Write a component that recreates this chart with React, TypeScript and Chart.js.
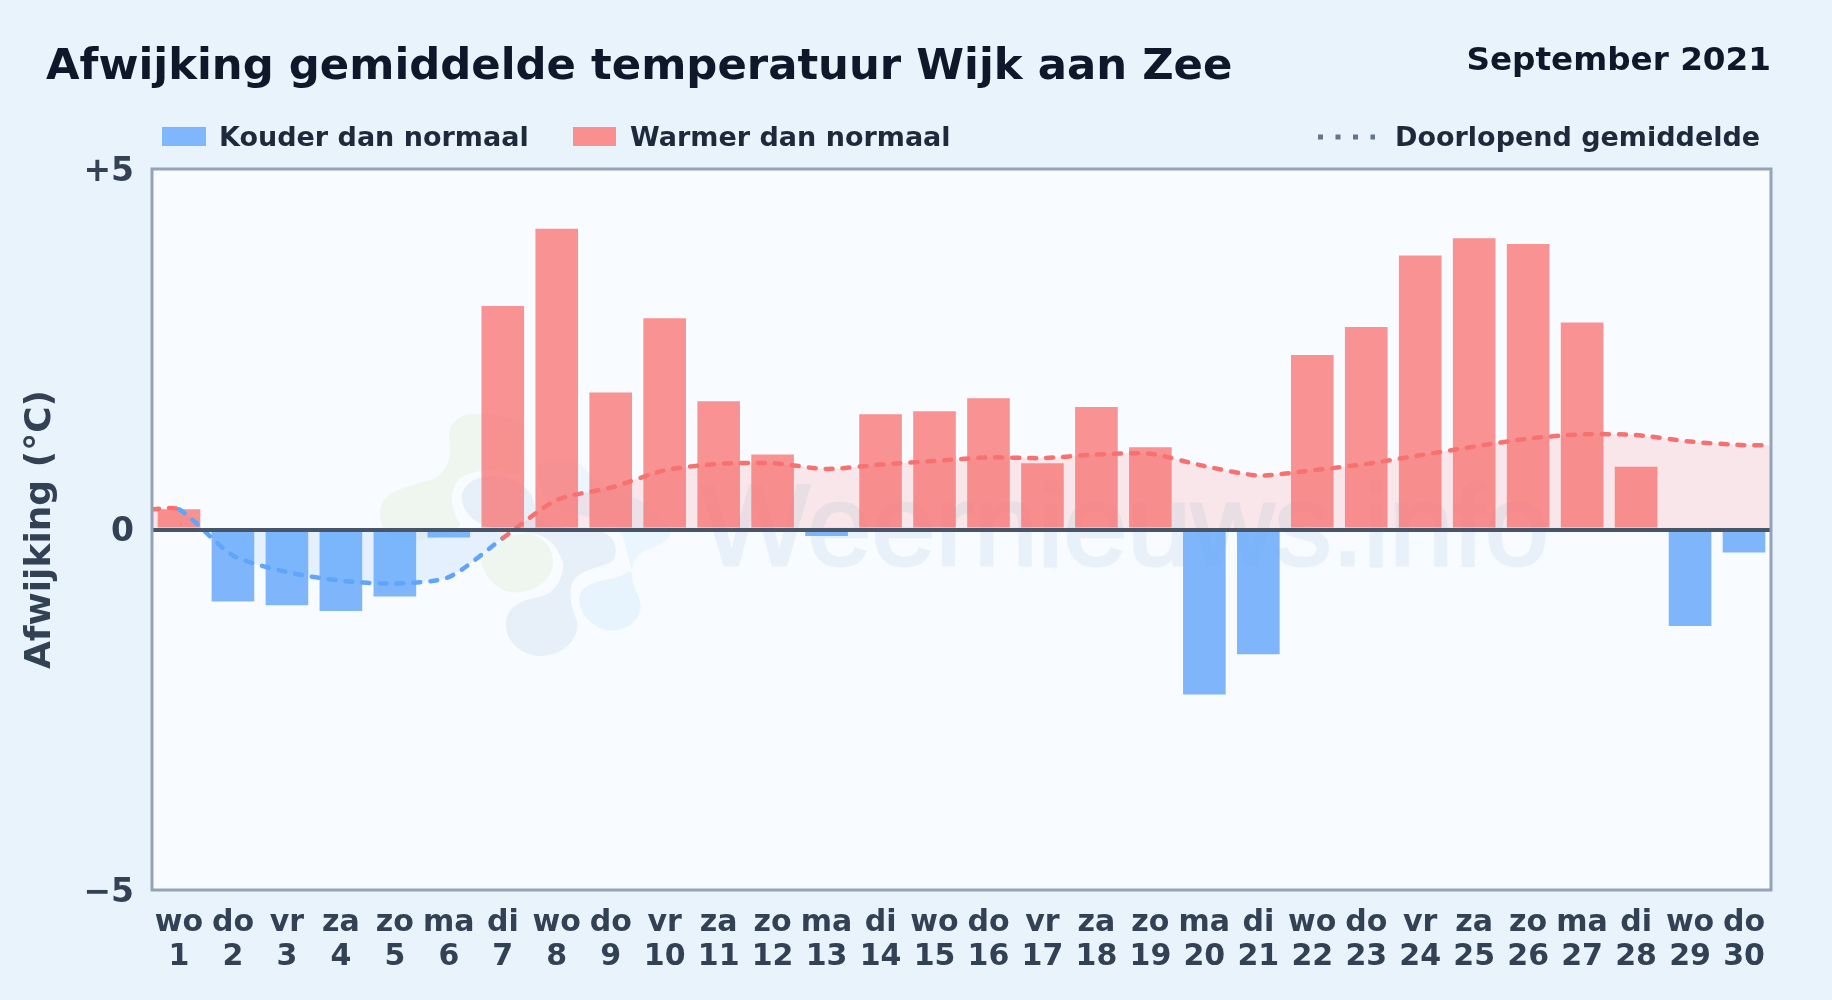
import React, { useEffect, useRef } from "react";
import { Chart, registerables } from "chart.js";

Chart.register(...registerables);

const days = [1,2,3,4,5,6,7,8,9,10,11,12,13,14,15,16,17,18,19,20,21,22,23,24,25,26,27,28,29,30];
const weekdays = ["wo","do","vr","za","zo","ma","di","wo","do","vr","za","zo","ma","di","wo","do","vr","za","zo","ma","di","wo","do","vr","za","zo","ma","di","wo","do"];
const deviation = [0.28,-1.0,-1.05,-1.13,-0.93,-0.11,3.10,4.17,1.90,2.93,1.78,1.04,-0.09,1.60,1.64,1.82,0.92,1.70,1.14,-2.29,-1.73,2.42,2.81,3.80,4.04,3.96,2.87,0.87,-1.34,-0.32];
const runningMean = [0.28,-0.36,-0.59,-0.71,-0.75,-0.66,-0.12,0.41,0.58,0.82,0.91,0.92,0.84,0.90,0.95,1.00,0.99,1.04,1.05,0.88,0.75,0.82,0.91,1.03,1.15,1.26,1.32,1.31,1.22,1.17];
const titleText = "Afwijking gemiddelde temperatuur Wijk aan Zee";
const periodText = "September 2021";
const legendCold = "Kouder dan normaal";
const legendWarm = "Warmer dan normaal";
const legendMean = "Doorlopend gemiddelde";
const axisTitle = "Afwijking (°C)";

const BAR_BLUE = "rgba(96,165,250,0.8)";
const BAR_RED = "rgba(248,113,113,0.76)";
const SWATCH_BLUE = "#80b6fb";
const SWATCH_RED = "#f98f8f";
const FONT = "'DejaVu Sans', sans-serif";

const framePlugin = {
  id: "frame",
  afterDraw(chart: any) {
    const { ctx, chartArea: a } = chart;
    ctx.save();
    ctx.strokeStyle = "#94a3b8";
    ctx.lineWidth = 3;
    ctx.strokeRect(a.left, a.top, a.right - a.left, a.bottom - a.top);
    ctx.restore();
  },
};

export default function App() {
  const ref = useRef<HTMLCanvasElement>(null);
  useEffect(() => {
    document.body.style.margin = "0";
    const linePoints = [
      { x: days[0] - 0.5, y: runningMean[0] },
      ...days.map((d, i) => ({ x: d, y: runningMean[i] })),
      { x: days[days.length - 1] + 0.5, y: runningMean[runningMean.length - 1] },
    ];
    const chart = new Chart(ref.current as HTMLCanvasElement, {
      type: "bar",
      data: {
        datasets: [
          {
            type: "line",
            order: 2,
            data: linePoints,
            borderWidth: 0,
            pointRadius: 0,
            tension: 0.25,
            fill: { target: { value: 0 }, above: "rgba(248,113,113,0.15)", below: "rgba(96,165,250,0.12)" },
          },
          {
            type: "bar",
            order: 1,
            data: days.map((d, i) => ({ x: d, y: deviation[i] })),
            backgroundColor: deviation.map((v) => (v < 0 ? BAR_BLUE : BAR_RED)),
            barPercentage: 0.79,
            categoryPercentage: 1,
          },
          {
            type: "line",
            order: 0,
            data: linePoints,
            borderWidth: 4.5,
            borderDash: [7, 10],
            borderCapStyle: "round",
            pointRadius: 0,
            tension: 0.25,
            fill: false,
            segment: {
              borderColor: (c: any) => (c.p1.parsed.y < 0 ? "#60a5fa" : "#f87171"),
            },
          },
        ],
      } as any,
      options: {
        animation: false,
        responsive: false,
        layout: { padding: { left: 0, top: 169, right: 61, bottom: 0 } },
        plugins: { legend: { display: false }, title: { display: false }, tooltip: { enabled: false } },
        scales: {
          x: {
            type: "linear",
            min: 0.5,
            max: 30.5,
            offset: false,
            grid: { display: false },
            border: { display: false },
            afterBuildTicks: (s: any) => {
              s.ticks = days.map((d) => ({ value: d }));
            },
            afterFit: (s: any) => {
              s.height = 110;
            },
            ticks: {
              autoSkip: false,
              maxRotation: 0,
              minRotation: 0,
              padding: 8,
              color: "#334155",
              font: { family: FONT, size: 30, weight: "bold", lineHeight: 1.13 },
              callback: (v: any) => [weekdays[v - 1], String(v)],
            },
          },
          y: {
            min: -5,
            max: 5,
            afterFit: (s: any) => {
              s.width = 152;
            },
            border: { display: false },
            grid: {
              z: 1,
              drawTicks: false,
              color: (c: any) => (c.tick.value === 0 ? "#475569" : "rgba(0,0,0,0)"),
              lineWidth: (c: any) => (c.tick.value === 0 ? 4 : 0),
            },
            ticks: {
              stepSize: 5,
              padding: 18,
              labelOffset: 3,
              color: "#334155",
              font: { family: FONT, size: 33, weight: "bold" },
              callback: (v: any) => (v > 0 ? "+" + v : v < 0 ? "\u2212" + Math.abs(v) : "0"),
            },
            title: {
              display: true,
              text: axisTitle,
              color: "#334155",
              padding: { top: 19, bottom: 0 },
              font: { family: FONT, size: 36, weight: "bold" },
            },
          },
        },
      } as any,
      plugins: [framePlugin],
    } as any);
    return () => chart.destroy();
  }, []);

  return (
    <div style={{ position: "absolute", left: 0, top: 0, width: 1832, height: 1000, background: "#e8f3fc", overflow: "hidden" }}>
      <div style={{ position: "absolute", left: 152, top: 169, width: 1619, height: 721, background: "#f8fbff" }} />
      <svg width={1832} height={1000} style={{ position: "absolute", left: 0, top: 0, pointerEvents: "none" }}>
        <g transform="translate(360,390) scale(0.3333)">
          <path fill="#b0d080" opacity={0.13} d="M340 72C290 75 262 105 268 150C275 200 265 240 225 265C170 285 90 295 65 340C50 400 70 430 130 450C200 460 300 430 300 400C270 360 265 300 300 265C340 235 430 235 480 255L490 100C450 80 400 70 340 72Z" />
          <path fill="#b0d080" opacity={0.13} d="M360 505C400 470 440 430 500 430C560 440 590 490 575 540C555 595 480 620 430 600C395 585 370 550 360 505Z" />
          <path fill="#3f7fc0" opacity={0.09} d="M305 320C310 280 350 255 410 258C470 262 525 300 525 360C530 400 600 420 700 420C760 425 780 470 760 510C740 530 690 530 650 560C620 590 630 640 650 690C665 750 600 800 540 798C480 795 435 750 438 700C440 650 480 630 540 620C590 610 610 560 610 520C590 460 560 430 480 425C400 425 310 400 305 320Z" />
          <path fill="#60b8f0" opacity={0.11} d="M658 625C660 585 710 575 760 565C800 555 815 530 815 555C815 590 845 620 842 655C835 700 790 725 745 722C700 715 655 670 658 625Z" />
          <path fill="#60b8f0" opacity={0.09} d="M540 220C590 195 665 205 690 255C730 300 860 300 930 425C940 450 880 470 850 485C825 500 815 520 818 545C800 500 800 450 780 425C760 380 600 380 560 330C530 290 525 250 540 220Z" />
        </g>
        <text x={701} y={565} fill="#3f86c8" stroke="#3f86c8" strokeWidth={3} opacity={0.08} style={{ font: "115px 'Liberation Sans', sans-serif", fontWeight: 400 }}>Weernieuws.info</text>
      </svg>
      <canvas ref={ref} width={1832} height={1000} style={{ position: "absolute", left: 0, top: 0, width: 1832, height: 1000 }} />
      <svg width={1832} height={1000} style={{ position: "absolute", left: 0, top: 0, pointerEvents: "none" }}>
        <text x={46} y={79} fill="#0f172a" style={{ font: `bold 43.35px ${FONT}` }}>{titleText}</text>
        <text x={1771} y={70} textAnchor="end" fill="#0f172a" style={{ font: `bold 32.65px ${FONT}` }}>{periodText}</text>

        <rect x={162} y={127} width={44} height={19} fill={SWATCH_BLUE} />
        <text x={219} y={146} fill="#1e293b" style={{ font: `bold 27px ${FONT}` }}>{legendCold}</text>
        <rect x={573} y={127} width={43} height={19} fill={SWATCH_RED} />
        <text x={630} y={146} fill="#1e293b" style={{ font: `bold 27px ${FONT}` }}>{legendWarm}</text>
        <line x1={1318} x2={1375} y1={137} y2={137} stroke="#64748b" strokeWidth={5} strokeDasharray="5 12.5" />
        <text x={1395} y={146} fill="#1e293b" style={{ font: `bold 27px ${FONT}` }}>{legendMean}</text>
      </svg>
    </div>
  );
}
